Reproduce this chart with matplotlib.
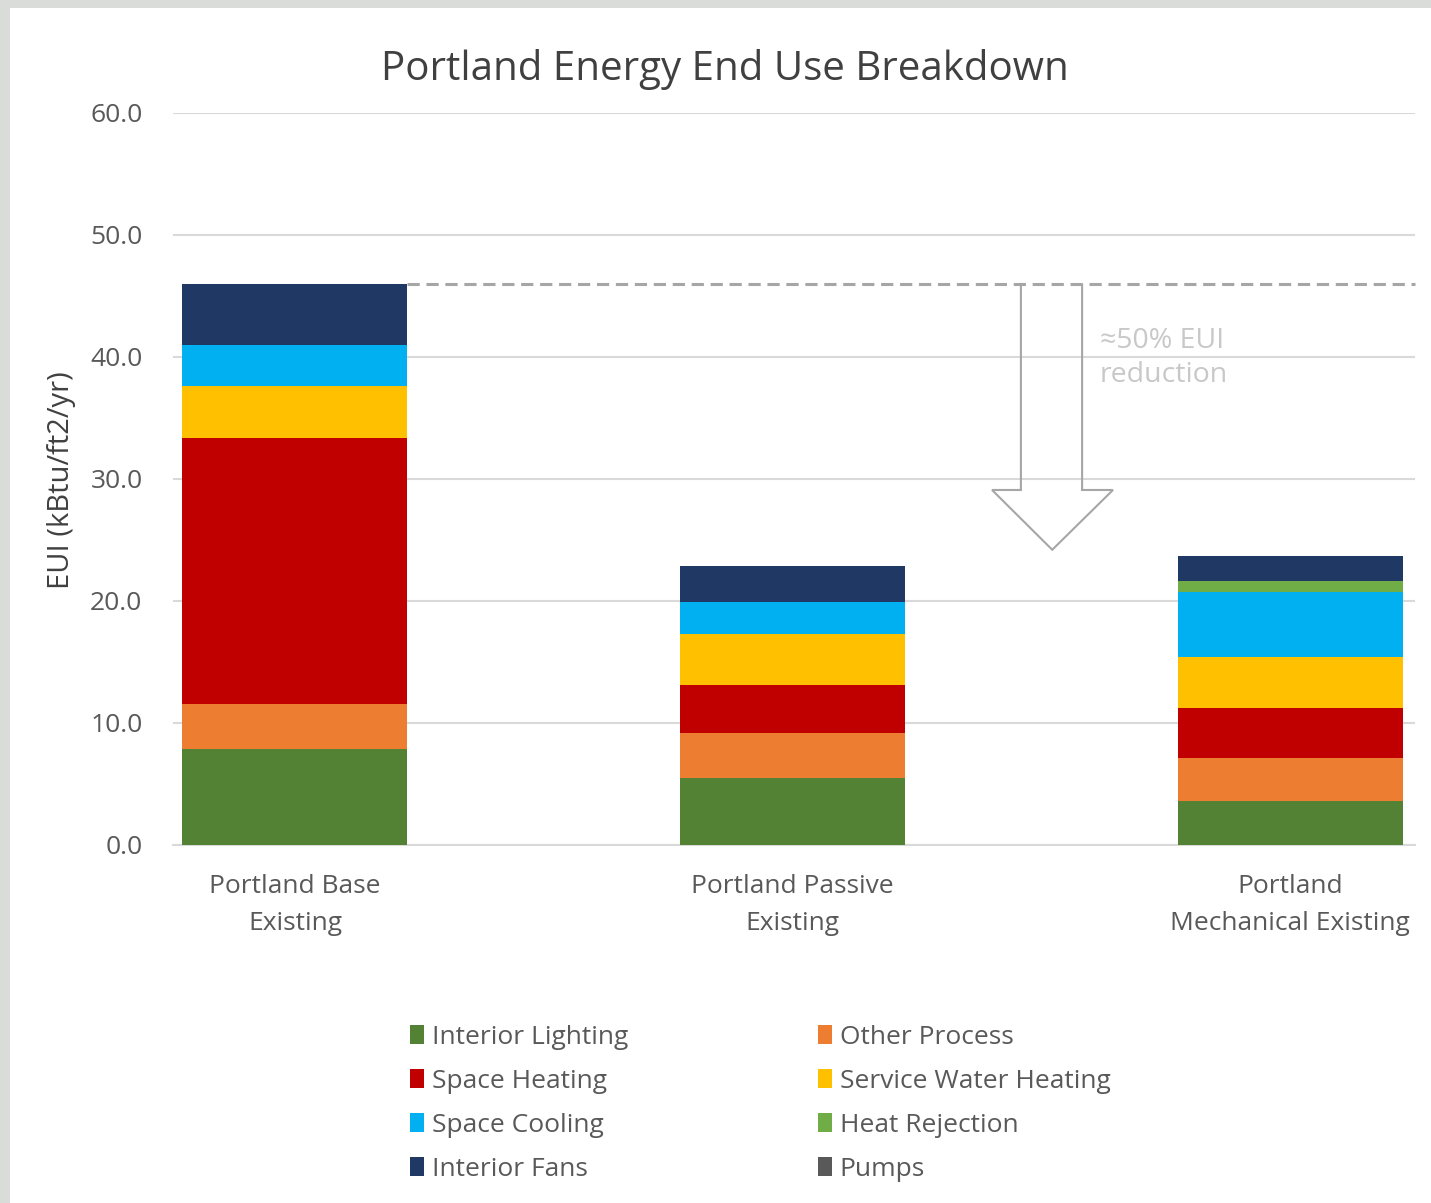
import matplotlib
matplotlib.use("Agg")
import matplotlib.pyplot as plt
from matplotlib.patches import Rectangle, Polygon, Patch
import numpy as np

plt.rcParams['font.family'] = ['Open Sans', 'DejaVu Sans']

# Scenarios and end-use breakdown (kBtu/ft2/yr)
categories = ["Portland Base\nExisting", "Portland Passive\nExisting", "Portland\nMechanical Existing"]
end_uses = ["Interior Lighting", "Other Process", "Space Heating", "Service Water Heating",
            "Space Cooling", "Heat Rejection", "Interior Fans", "Pumps"]
interior_lighting = [7.9, 5.5, 3.6]
other_process = [3.65, 3.65, 3.5]
space_heating = [21.85, 3.97, 4.16]
service_water_heating = [4.2, 4.18, 4.19]
space_cooling = [3.4, 2.6, 5.29]
heat_rejection = [0.0, 0.0, 0.93]
interior_fans = [5.0, 2.94, 2.0]
pumps = [0.0, 0.0, 0.0]
series = [interior_lighting, other_process, space_heating, service_water_heating,
          space_cooling, heat_rejection, interior_fans, pumps]
colors = ["#548235", "#ED7D31", "#C00000", "#FFC000",
          "#00B0F0", "#70AD47", "#203864", "#595959"]
y_ticks = [0, 10, 20, 30, 40, 50, 60]
annotation = "\u224850% EUI\nreduction"

W, H = 1431, 1203
fig = plt.figure(figsize=(W / 100, H / 100), dpi=100)
fig.patch.set_facecolor("#d9dcd9")
# white chart panel
fig.add_artist(Rectangle((10 / W, 0), 1 - 10 / W, 1 - 8 / H, transform=fig.transFigure,
                         facecolor="white", edgecolor="none", zorder=0))

ax = fig.add_axes([173 / W, 358 / H, 1242 / W, 732 / H])
ax.set_facecolor("none")
x = np.arange(len(categories))
width = 0.452
bottom = np.zeros(len(categories))
for vals, col, name in zip(series, colors, end_uses):
    v = np.array(vals)
    ax.bar(x, v, width, bottom=bottom, color=col, label=name, zorder=3, linewidth=0)
    bottom += v

ax.set_xlim(-0.245, 2.251)
ax.set_ylim(0, 60)
ax.set_yticks(y_ticks)
ax.set_yticklabels([f"{t:.1f}" for t in y_ticks])
ax.set_xticks(x)
ax.set_xticklabels(categories, linespacing=1.62)
ax.grid(axis="y", color="#d9d9d9", linewidth=1.5, zorder=0)
for s in ["top", "right", "left"]:
    ax.spines[s].set_visible(False)
ax.spines["bottom"].set_color("#d9d9d9")
ax.spines["bottom"].set_linewidth(1.5)
ax.tick_params(axis="both", length=0, colors="#595959", labelsize=19)
ax.tick_params(axis="y", pad=22)
ax.tick_params(axis="x", pad=21)

# baseline total as dashed reference line
base_total = bottom[0]
ax.plot([x[0] + width / 2, 2.251], [base_total, base_total], color="#a6a6a6",
        linestyle=(0, (4, 2.2)), linewidth=2.2, zorder=4, clip_on=False)

# block arrow outline
shaft_l, shaft_r = 1.459, 1.582
head_l, head_r, tip_x = 1.401, 1.644, 1.522
head_y, tip_y = 29.1, 24.2
arrow = Polygon([(shaft_l, base_total), (shaft_l, head_y), (head_l, head_y), (tip_x, tip_y),
                 (head_r, head_y), (shaft_r, head_y), (shaft_r, base_total)],
                closed=False, fill=False, edgecolor="#a6a6a6", linewidth=1.5, zorder=4)
ax.add_patch(arrow)
ax.text(1.618, 39.9, annotation, color="#c8c8c8", fontsize=20.5, va="center", ha="left",
        linespacing=1.28, zorder=5)

fig.text(725 / W, 1 - 69 / H, "Portland Energy End Use Breakdown", ha="center", va="center",
         fontsize=29, color="#404040")
fig.text(61 / W, 1 - 480 / H, "EUI (kBtu/ft2/yr)", rotation=90, ha="center", va="center",
         fontsize=21, color="#404040")

handles = [Patch(facecolor=c, edgecolor="none") for c in colors]
order = [0, 2, 4, 6, 1, 3, 5, 7]
leg = fig.legend([handles[i] for i in order], [end_uses[i] for i in order], ncol=2,
                 loc="upper left", bbox_to_anchor=(386 / W, 1 - 1001 / H), frameon=False,
                 fontsize=19, handlelength=0.53, handleheight=0.7, handletextpad=0.3,
                 columnspacing=7.2, labelspacing=0.72)
for t in leg.get_texts():
    t.set_color("#595959")

fig.savefig("out.png", dpi=100)
